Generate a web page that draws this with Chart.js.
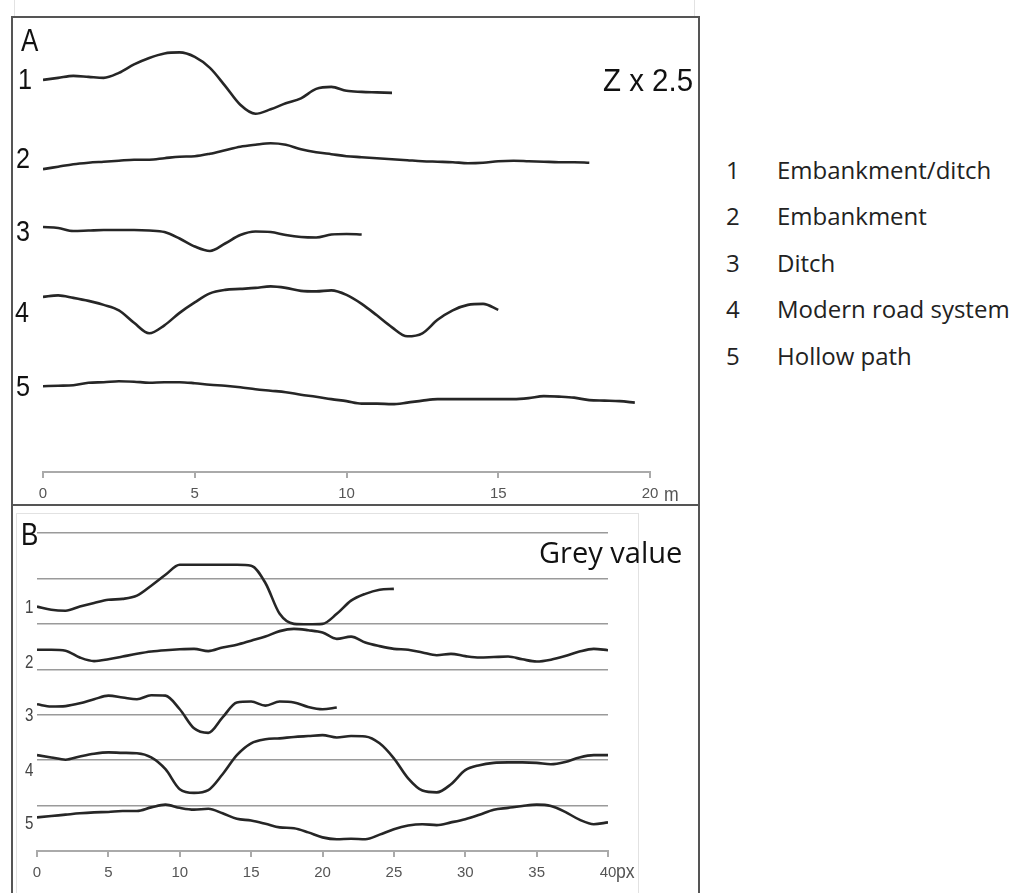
<!DOCTYPE html>
<html>
<head>
<meta charset="utf-8">
<script src="https://cdn.jsdelivr.net/npm/chart.js@4.4.0/dist/chart.umd.min.js"></script>
<style>
    body { margin: 0; width: 1016px; height: 893px; background: #fff; position: relative; overflow: hidden; }
    .bar { position: absolute; background: #555; }
    .faint { position: absolute; background: #e2e2e2; }
    .narrow { position: absolute; font-family: 'Liberation Sans', Arial, sans-serif; line-height: 1; white-space: nowrap;
              transform: scaleX(0.84); transform-origin: left top; }
    .panel { font-size: 31px; color: #111; }
    .rowA { font-size: 30px; color: #111; }
    .rowB { font-size: 18px; color: #444; }
    .unit { font-size: 21px; color: #555; }
    .legend { position: absolute; font-family: 'Open Sans', sans-serif; font-size: 24px; color: #222; line-height: 1; white-space: nowrap; }
    canvas { position: absolute; }
</style>
</head>
<body>

<!-- frame -->
<div class="faint" style="left:14px; top:0; width:1px; height:17px;"></div>
<div class="faint" style="left:694px; top:0; width:1px; height:17px;"></div>
<div class="faint" style="left:16px; top:513px; width:622px; height:1px;"></div>
<div class="faint" style="left:16px; top:513px; width:1px; height:380px;"></div>
<div class="faint" style="left:638px; top:513px; width:1px; height:380px;"></div>
<div class="bar" style="left:11px; top:16px; width:689px; height:2px;"></div>
<div class="bar" style="left:11px; top:16px; width:2px; height:877px;"></div>
<div class="bar" style="left:698px; top:16px; width:2px; height:877px;"></div>
<div class="bar" style="left:11px; top:504px; width:689px; height:2px;"></div>

<canvas id="chartA" width="685" height="486" style="left:13px; top:18px;"></canvas>
<canvas id="chartB" width="685" height="387" style="left:13px; top:506px;"></canvas>

<!-- panel A texts -->
<div class="narrow panel" style="left:21px; top:25px;">A</div>
<div class="narrow rowA" style="left:18px; top:64px;">1</div>
<div class="narrow rowA" style="left:16px; top:143px;">2</div>
<div class="narrow rowA" style="left:16px; top:216px;">3</div>
<div class="narrow rowA" style="left:15px; top:297px;">4</div>
<div class="narrow rowA" style="left:16px; top:371px;">5</div>
<div class="narrow panel" style="left:603px; top:65px; transform:scaleX(0.95);">Z x 2.5</div>
<div class="narrow unit" style="left:664px; top:483px;">m</div>

<!-- panel B texts -->
<div class="narrow panel" style="left:21px; top:519px;">B</div>
<div class="narrow rowB" style="left:25px; top:598px;">1</div>
<div class="narrow rowB" style="left:25px; top:653px;">2</div>
<div class="narrow rowB" style="left:25px; top:706px;">3</div>
<div class="narrow rowB" style="left:25px; top:761px;">4</div>
<div class="narrow rowB" style="left:25px; top:814px;">5</div>
<div class="legend" style="left:539px; top:537px; font-size:29px; color:#111;">Grey value</div>
<div class="narrow unit" style="left:616px; top:860px;">px</div>

<!-- legend -->
<div class="legend" style="left:726px; top:158px;">1</div>
<div class="legend" style="left:777px; top:158px;">Embankment/ditch</div>
<div class="legend" style="left:726px; top:204px;">2</div>
<div class="legend" style="left:777px; top:204px;">Embankment</div>
<div class="legend" style="left:726px; top:251px;">3</div>
<div class="legend" style="left:777px; top:251px;">Ditch</div>
<div class="legend" style="left:726px; top:297px;">4</div>
<div class="legend" style="left:777px; top:297px;">Modern road system</div>
<div class="legend" style="left:726px; top:344px;">5</div>
<div class="legend" style="left:777px; top:344px;">Hollow path</div>

<script>
// Panel A - distance along profile (m), heights (stacked, Z x 2.5)
const distA = [0, 0.5, 1, 1.5, 2, 2.5, 3, 3.5, 4, 4.5, 5, 5.5, 6, 6.5, 7, 7.5, 8, 8.5, 9, 9.5,
               10, 10.5, 11, 11.5, 12, 12.5, 13, 13.5, 14, 14.5, 15, 15.5, 16, 16.5, 17, 17.5, 18, 18.5, 19, 19.5, 20];
const profA1 = [78.6, 79.0, 79.4, 79.2, 79.0, 80.0, 81.7, 83.0, 83.9, 84.1, 83.2, 81.0, 77.4, 73.6, 71.8, 72.7,
                73.9, 74.9, 76.8, 77.2, 76.4, 76.2, 76.1, 76.0];
const profA2 = [60.7, 61.2, 61.7, 62.0, 62.2, 62.4, 62.6, 62.6, 62.9, 63.2, 63.3, 63.8, 64.5, 65.2, 65.6, 65.9,
                65.6, 64.7, 64.1, 63.7, 63.3, 63.1, 62.9, 62.7, 62.5, 62.3, 62.2, 62.1, 61.9, 62.0, 62.3, 62.4,
                62.3, 62.2, 62.1, 62.1, 62.0];
const profA3 = [49.1, 48.9, 48.3, 48.4, 48.5, 48.5, 48.5, 48.4, 48.1, 46.8, 45.2, 44.3, 45.8, 47.5, 48.2, 48.1,
                47.5, 47.1, 47.0, 47.6, 47.7, 47.6];
const profA4 = [35.1, 35.4, 34.9, 34.3, 33.5, 32.4, 29.9, 27.8, 29.4, 31.9, 34.0, 35.8, 36.5, 36.7, 36.9, 37.2,
                36.9, 36.3, 36.2, 36.4, 35.5, 33.7, 31.4, 29.0, 27.2, 27.8, 30.5, 32.4, 33.5, 33.7, 32.5];
const profA5 = [17.2, 17.3, 17.4, 17.9, 18.0, 18.2, 18.1, 17.9, 18.0, 18.0, 17.8, 17.5, 17.3, 17.0, 16.6, 16.3,
                16.0, 15.5, 15.1, 14.6, 14.2, 13.7, 13.7, 13.6, 13.9, 14.3, 14.6, 14.6, 14.6, 14.6, 14.6, 14.6,
                14.8, 15.2, 15.1, 14.9, 14.4, 14.3, 14.2, 13.9];
const ticksA = [0, 5, 10, 15, 20];

// Panel B - pixel position along profile, grey values (stacked)
const distB = [0, 1, 2, 3, 4, 5, 6, 7, 8, 9, 10, 11, 12, 13, 14, 15, 16, 17, 18, 19, 20,
               21, 22, 23, 24, 25, 26, 27, 28, 29, 30, 31, 32, 33, 34, 35, 36, 37, 38, 39, 40];
const profB1 = [53.8, 53.1, 52.9, 53.8, 54.6, 55.3, 55.5, 56.2, 58.4, 60.8, 63.0, 63.0, 63.0, 63.0, 63.0, 62.8,
                59.0, 52.2, 50.0, 49.9, 50.0, 52.2, 55.1, 56.6, 57.5, 57.7];
const profB2 = [44.3, 44.3, 44.1, 42.6, 41.8, 42.2, 42.8, 43.4, 43.9, 44.2, 44.4, 44.5, 44.0, 44.8, 45.4, 46.3,
                47.2, 48.4, 48.9, 48.6, 48.1, 46.7, 47.2, 45.9, 45.1, 44.5, 44.3, 43.7, 43.1, 43.4, 42.9, 42.6,
                42.7, 42.8, 42.2, 41.7, 42.1, 42.9, 43.9, 44.5, 44.2];
const profB3 = [32.3, 31.8, 31.9, 32.5, 33.4, 34.2, 33.8, 33.4, 34.3, 34.2, 31.2, 27.0, 26.0, 29.4, 32.7, 32.9,
                32.0, 32.9, 32.7, 31.7, 31.2, 31.6];
const profB4 = [21.1, 20.6, 20.1, 20.8, 21.4, 21.7, 21.6, 21.5, 20.6, 18.0, 13.6, 12.8, 13.4, 16.9, 21.1, 23.7,
                24.6, 24.8, 25.1, 25.3, 25.5, 25.0, 25.3, 25.2, 23.7, 20.4, 16.0, 13.3, 12.9, 14.7, 17.8, 18.9,
                19.4, 19.5, 19.5, 19.4, 19.1, 19.6, 20.6, 21.1, 21.1];
const profB5 = [7.4, 7.7, 8.0, 8.3, 8.5, 8.6, 8.8, 8.8, 9.6, 10.2, 9.5, 9.1, 9.3, 8.3, 7.1, 6.7,
                6.0, 5.2, 5.0, 4.1, 3.0, 2.6, 2.7, 2.6, 3.6, 4.8, 5.6, 5.9, 5.7, 6.3, 7.0, 8.0,
                9.1, 9.5, 9.9, 10.2, 9.9, 8.6, 6.9, 5.9, 6.3];
const ticksB = [0, 5, 10, 15, 20, 25, 30, 35, 40];
const gridB = [0, 10, 20, 30, 40, 50, 60, 70];

const tickFont = { family: "'Liberation Sans', Arial, sans-serif", size: 15 };

// Build line datasets from a distance array and a list of profiles
function buildDatasets(dist, profiles) {
    return profiles.map(function(p) {
        return {
            data: p.map((v, i) => ({ x: dist[i], y: v })),
            borderColor: '#262626',
            borderWidth: 2.6,
            pointRadius: 0,
            cubicInterpolationMode: 'monotone',
            fill: false
        };
    });
}

function xScale(max, tickValues, boxHeight) {
    return {
        type: 'linear',
        min: 0,
        max: max,
        afterBuildTicks: scale => { scale.ticks = tickValues.map(v => ({ value: v })); },
        afterFit: scale => { scale.height = boxHeight; },
        ticks: { font: tickFont, color: '#555', padding: 7, maxRotation: 0 },
        grid: { drawOnChartArea: false, drawTicks: true, tickLength: 6, color: '#aaa', lineWidth: 2 },
        border: { color: '#aaa', width: 2 }
    };
}

// Panel A: elevation profiles
new Chart(document.getElementById('chartA'), {
    type: 'line',
    data: { datasets: buildDatasets(distA, [profA1, profA2, profA3, profA4, profA5]) },
    options: {
        responsive: false,
        animation: false,
        layout: { padding: { left: 30, right: 48, top: 0, bottom: 0 } },
        plugins: { legend: { display: false }, tooltip: { enabled: false } },
        scales: {
            x: xScale(20, ticksA, 32),
            y: { min: 0, max: 91, display: false }
        }
    }
});

// Panel B: grey value profiles
new Chart(document.getElementById('chartB'), {
    type: 'line',
    data: { datasets: buildDatasets(distB, [profB1, profB2, profB3, profB4, profB5]) },
    options: {
        responsive: false,
        animation: false,
        layout: { padding: { left: 24, right: 90, top: 27, bottom: 0 } },
        plugins: { legend: { display: false }, tooltip: { enabled: false } },
        scales: {
            x: xScale(40, ticksB, 42),
            y: {
                min: 0,
                max: 70,
                afterBuildTicks: scale => { scale.ticks = gridB.map(v => ({ value: v })); },
                afterFit: scale => { scale.width = 0; },
                ticks: { display: false },
                border: { display: false },
                grid: {
                    drawTicks: false,
                    lineWidth: 1.5,
                    color: ctx => (ctx.tick && ctx.tick.value === 0) ? 'rgba(0,0,0,0)' : '#9a9a9a'
                }
            }
        }
    }
});
</script>
</body>
</html>
